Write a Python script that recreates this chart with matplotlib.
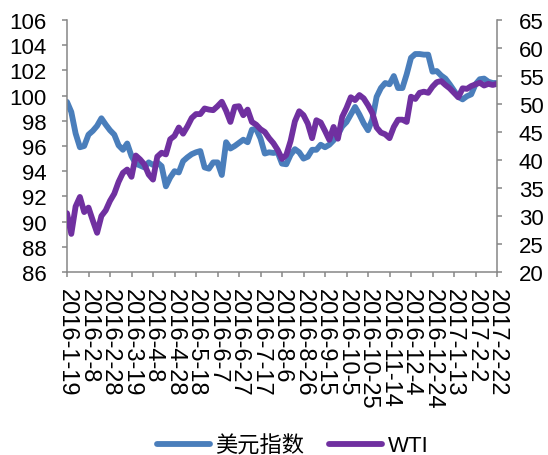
import pandas as pd
import matplotlib
matplotlib.use('Agg')
import matplotlib.pyplot as plt

plt.rcParams['font.family'] = ['Liberation Sans', 'Noto Sans CJK SC', 'DejaVu Sans']

# 样本日期：每 4 天取一个点
dates = pd.date_range('2016-01-19', '2017-02-22', freq='4D')
tick_dates = pd.date_range('2016-01-19', '2017-02-22', freq='20D')
tick_labels = [f"{d.year}-{d.month}-{d.day}" for d in tick_dates]

# 美元指数（左轴）
usd = [99.5, 98.7, 97.0, 95.9, 96.0, 96.9, 97.2, 97.6, 98.2, 97.7,
       97.25, 96.9, 96.05, 95.7, 96.2, 95.2, 94.6, 94.45, 94.3, 94.7,
       94.5, 94.7, 94.4, 92.8, 93.5, 94.0, 93.9, 94.8, 95.1, 95.35,
       95.5, 95.6, 94.3, 94.2, 94.7, 94.7, 93.7, 96.3, 95.8, 96.0,
       96.25, 96.5, 96.3, 97.3, 97.35, 96.6, 95.4, 95.5, 95.45, 95.5,
       94.6, 94.55, 95.3, 95.75, 95.5, 95.0, 95.15, 95.7, 95.7, 96.1,
       95.9, 96.1, 96.45, 96.9, 97.55, 97.9, 98.5, 99.1, 98.5, 97.8,
       97.25, 98.1, 99.9, 100.6, 101.0, 100.9, 101.55, 100.6, 100.6, 101.7,
       103.0, 103.3, 103.3, 103.25, 103.25, 101.9, 101.95, 101.6, 101.35, 100.9,
       100.4, 99.9, 99.7, 99.95, 100.1, 100.9, 101.3, 101.35, 101.1, 101.0,
       101.0]

# WTI 原油（右轴）
wti = [30.5, 26.8, 31.7, 33.4, 30.7, 31.5, 29.2, 27.0, 30.0, 31.0,
       32.7, 34.0, 36.1, 37.7, 38.3, 37.0, 40.8, 40.1, 39.2, 37.4,
       36.5, 40.6, 41.3, 41.0, 43.7, 44.3, 45.8, 44.7, 46.0, 47.5,
       48.2, 48.2, 49.2, 49.0, 48.9, 49.6, 50.4, 48.8, 46.8, 49.5,
       49.6, 48.0, 49.0, 46.8, 46.3, 45.5, 45.0, 43.9, 43.0, 41.8,
       40.2, 40.9, 43.4, 46.9, 48.7, 48.0, 46.5, 43.9, 47.1, 46.7,
       45.2, 43.6, 45.9, 43.8, 47.7, 49.3, 51.2, 50.7, 51.6, 51.0,
       49.8, 48.4, 45.8, 44.9, 44.6, 43.9, 45.9, 47.2, 47.2, 46.8,
       51.3, 50.9, 52.0, 52.2, 52.0, 53.1, 53.9, 54.1, 53.4, 52.8,
       52.0, 51.2, 52.8, 52.7, 53.2, 53.5, 53.8, 53.3, 53.6, 53.4,
       53.6]

BLUE = '#4A7EBB'
PURPLE = '#7030A0'
GRAY = '#868686'
FS = 16

fig = plt.figure(figsize=(5.48, 4.56), dpi=100)
ax = fig.add_axes([67 / 548, 1 - 273 / 456, 430 / 548, 252 / 456])
ax2 = ax.twinx()

line_kw = dict(lw=4.2, solid_joinstyle='round', solid_capstyle='round')
l1, = ax.plot(dates, usd, color=BLUE, **line_kw)
l2, = ax2.plot(dates, wti, color=PURPLE, **line_kw)

ax.set_xlim(tick_dates[0], tick_dates[-1])
ax.set_ylim(86, 106)
ax.set_yticks(range(86, 107, 2))
ax2.set_ylim(20, 65)
ax2.set_yticks(range(20, 66, 5))

ax.set_xticks(tick_dates)
ax.set_xticklabels(tick_labels, rotation=-90, ha='center', va='top',
                   fontsize=17)

for a in (ax, ax2):
    for s in a.spines.values():
        s.set_color(GRAY)
        s.set_linewidth(1.1)
    a.spines['top'].set_visible(False)
ax.spines['right'].set_visible(False)
ax2.spines['left'].set_visible(False)
ax2.spines['bottom'].set_visible(False)

ax.tick_params(axis='y', direction='out', length=3.6, width=1.1, color=GRAY,
               labelsize=FS, pad=11)
ax.tick_params(axis='x', direction='out', length=3.6, width=1.1, color=GRAY,
               pad=8)
ax2.tick_params(axis='y', direction='out', length=3.6, width=1.1, color=GRAY,
                labelsize=FS, pad=12)

fig.legend([l1, l2], ['美元指数', 'WTI'], loc='center',
           bbox_to_anchor=(0.534, 0.02), ncol=2, frameon=False, fontsize=FS,
           handlelength=2.4, handletextpad=0.25, columnspacing=1.1,
           borderpad=0, borderaxespad=0)

fig.savefig('out.png', dpi=100)
